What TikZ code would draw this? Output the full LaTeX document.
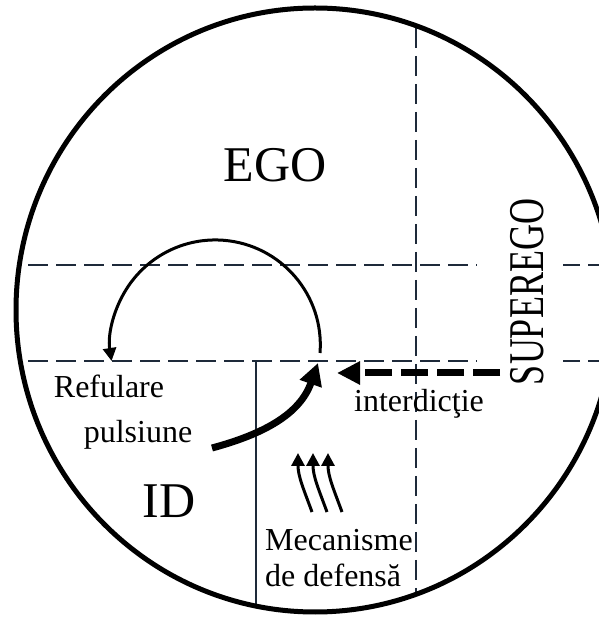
\documentclass[tikz,border=0pt]{standalone}
\usepackage{fontspec}
\setmainfont{Liberation Serif}
\usetikzlibrary{positioning, arrows.meta}

\definecolor{guide}{RGB}{30,42,58}

\begin{document}
\begin{tikzpicture}[
  x=1pt, y=1pt,
  big/.style={font=\fontsize{50}{54}\selectfont, inner sep=0pt, anchor=base},
  small/.style={font=\fontsize{32}{37}\selectfont, inner sep=0pt, anchor=base},
  border/.style={draw=guide, line width=2pt, dash pattern=on 20pt off 8pt},
  wall/.style={draw=guide, line width=2pt},
  turn/.style={-{Triangle[length=13pt, width=13pt]}, line width=3pt},
  drive/.style={-{Triangle[length=22pt, width=22pt]}, line width=7pt},
  ban/.style={-{Triangle[length=23pt, width=22pt]}, line width=7pt, dash pattern=on 27pt off 9pt},
  lift/.style={-{Triangle[length=13pt, width=13pt]}, line width=3pt}
]
  \useasboundingbox (0,0) rectangle (599,619);
  \clip (0,0) rectangle (599,619);

  % Partition lines
  \draw[border] (0,354) -- (599,354);
  \draw[border] (0,258) -- (599,258);
  \draw[border] (416,619) -- (416,0);
  \draw[wall] (256,258) -- (256,0);

  % White out everything outside the psyche
  \fill[white, even odd rule] (0,0) rectangle (599,619) (315,309) ellipse [x radius=299pt, y radius=302pt];
  \draw[line width=5pt] (315,309) ellipse [x radius=299pt, y radius=302pt];

  % Instances
  \node[big] (ego) at (275,437) {EGO};
  \node[big] (id) at (169,101) {ID};
  \node[big, rotate=90, fill=white, text height=62pt, text depth=16pt, inner ysep=4pt] (superego) at (543,327) {\scalebox{0.72}[1]{SUPEREGO}};

  % Labels
  \node[small] (refulare) at (109,221) {Refulare};
  \node[small] (pulsiune) at (138,176) {pulsiune};
  \node[small] (interdictie) at (419,207) {interdicţie};
  \node[small, align=left, anchor=base west] (defense) at (265,32) {Mecanisme\\de defensă};

  % Arrows
  \coordinate (turnR) at (320,266);
  \coordinate (push) at (212,171);
  \coordinate (pivot) at (318,256);
  \coordinate (banstart) at (500,246);
  \coordinate (banend) at (337,246);

  \draw[turn] (turnR) arc[start angle=-4.4, end angle=188.8, radius=105pt];
  \draw[drive] (push) .. controls (264,185) and (300,205) .. (pivot);
  \draw[ban] (banstart) -- (banend);
  \foreach \dx in {0,15,30}
    \draw[lift] (312+\dx,107) to[out=110, in=270] (298+\dx,166);
\end{tikzpicture}
\end{document}
